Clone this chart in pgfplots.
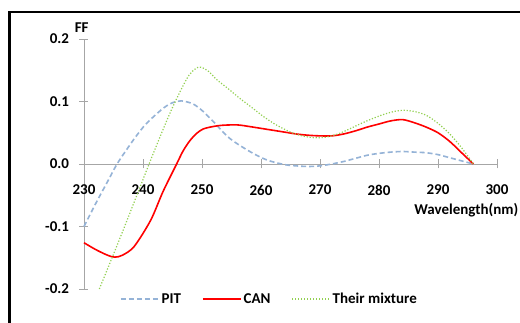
\documentclass[border=0pt]{standalone}
\usepackage{pgfplots}
\pgfplotsset{compat=1.18}
\usepackage{fontspec}
\setmainfont{Carlito}
\newcommand\lf{\fontsize{15}{17}\selectfont\bfseries}
\definecolor{pitc}{HTML}{95B3D7}
\definecolor{canc}{HTML}{FF0000}
\definecolor{mixc}{HTML}{92D050}
\definecolor{axc}{HTML}{A6A6A6}
\begin{document}
\begin{tikzpicture}[x=1pt,y=1pt]
\useasboundingbox (0,0) rectangle (520,323);
\clip (0,0) rectangle (520,323);
\fill[white] (0,0) rectangle (520,323);
\draw[black, line width=2.2pt] (9.5,-10) -- (9.5,311) -- (540,311);
\begin{axis}[
  at={(84pt,34pt)}, anchor=south west,
  scale only axis, width=413pt, height=250pt,
  xmin=230, xmax=300, ymin=-0.2, ymax=0.2,
  axis x line=middle, axis y line=left,
  axis line style={-, draw=axc, line width=0.8pt},
  every tick/.style={draw=axc, line width=0.8pt},
  tick align=center, major tick length=9pt,
  hide obscured x ticks=false, hide obscured y ticks=false,
  xtick={230,240,...,300}, ytick={-0.2,-0.1,0,0.1,0.2},
  yticklabel style={/pgf/number format/fixed, /pgf/number format/fixed zerofill, /pgf/number format/precision=1},
  /pgf/number format/assume math mode=true,
  tick label style={font=\lf},
  xticklabel style={yshift=-13pt},
  yticklabel style={xshift=-7pt},
  clip=false,
  legend columns=3,
  legend style={at={(0.449,-0.04)}, anchor=center, draw=none, fill=none, font=\lf,
    /tikz/every even column/.append style={column sep=19pt},
    inner sep=0pt},
  legend image code/.code={\draw[#1] (0pt,0pt) -- (38pt,0pt);},
]
\addplot[pitc, line width=1.6pt, dash pattern=on 5pt off 3pt, smooth] coordinates {
(230,-0.1) (232,-0.063) (234,-0.028) (235.6,0) (237.3,0.024) (238.8,0.044)
(240.6,0.065) (243.4,0.089) (245,0.098) (246.5,0.101) (248.5,0.096) (250.2,0.084)
(251.9,0.068) (254.7,0.041) (258.1,0.02) (261,0.0064) (264,-0.001) (266,-0.003)
(268,-0.004) (270,-0.003) (272,0.0) (274,0.004) (276,0.009) (278,0.014) (280,0.017)
(282,0.019) (284,0.02) (286,0.019) (288,0.018) (290,0.015) (292,0.01) (294,0.005) (296,0)};
\addlegendentry{PIT}
\addplot[canc, line width=1.6pt, smooth] coordinates {
(230,-0.126) (232,-0.137) (234,-0.146) (235.2,-0.149) (236.5,-0.146) (238.5,-0.132)
(241.3,-0.09) (243.4,-0.044) (245.7,0) (246.8,0.021) (248,0.038) (249.1,0.049)
(250.2,0.056) (251.9,0.060) (253.5,0.062) (256,0.0625) (258,0.06) (260,0.057)
(262,0.054) (264,0.051) (266,0.048) (268,0.046)
(270,0.045) (272,0.045) (274,0.048) (276,0.053) (278,0.059) (280,0.064) (282,0.069)
(284,0.071) (286,0.066) (288,0.059) (290,0.05) (292,0.036) (294,0.018) (296,0)};
\addlegendentry{CAN}
\addplot[mixc, line width=1.2pt, dash pattern=on 1.2pt off 1.8pt, smooth] coordinates {
(232.6,-0.2) (236,-0.121) (239,-0.049) (241.2,0.004) (243,0.046) (244.6,0.082)
(246.3,0.116) (247.8,0.142) (249.4,0.155) (251,0.149) (252.5,0.135) (254.5,0.12)
(256.4,0.105) (258.5,0.09) (260.4,0.076) (262.5,0.063) (265,0.051) (267,0.045)
(269,0.042) (271,0.043) (273,0.048) (275,0.056) (277,0.065) (279,0.073) (281,0.08)
(283,0.085) (284,0.086) (286,0.084) (288,0.078) (290,0.065) (292,0.048) (294,0.026) (296,0)};
\addlegendentry{Their mixture}
\node[font=\lf] at (axis cs:229.6,0.2176) {FF};
\node[font=\lf] at (axis cs:294.8,-0.0736) {Wavelength(nm)};
\end{axis}
\end{tikzpicture}
\end{document}
